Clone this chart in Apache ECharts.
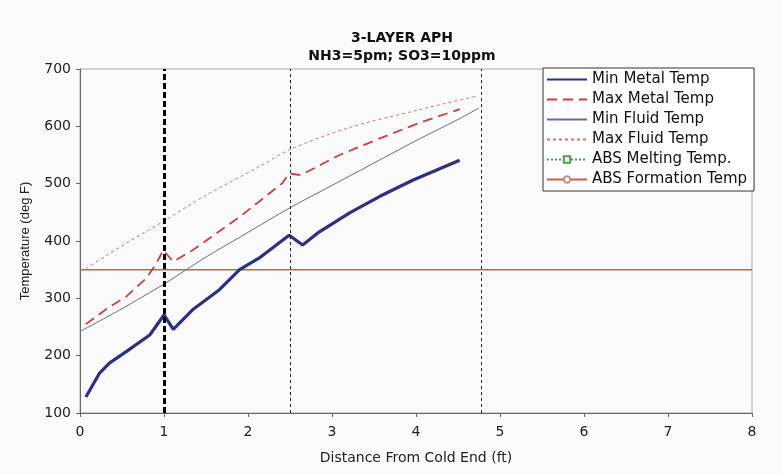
<!DOCTYPE html>
<html>
<head>
<meta charset="utf-8">
<script src="https://cdn.jsdelivr.net/npm/echarts@6/dist/echarts.min.js"></script>
<style>
  html, body { margin: 0; padding: 0; background: #fbfbfb; }
  #chart { width: 781px; height: 474px; }
</style>
</head>
<body>
<div id="chart"></div>
<script>
// distance from cold end (ft) / temperature (deg F)
const minMetalX = [0.07, 0.23, 0.35, 0.55, 0.83, 1.0, 1.11, 1.34, 1.66, 1.9, 2.13, 2.49, 2.65, 2.85, 3.21, 3.57, 3.96, 4.52]
const minMetalY = [128, 169, 187, 207, 236, 271, 246, 280, 315, 350, 370, 410, 393, 416, 449, 478, 506, 541]

const maxMetalX = [0.07, 0.19, 0.35, 0.55, 0.79, 0.91, 0.99, 1.11, 1.34, 1.9, 2.41, 2.49, 2.63, 3.09, 3.57, 4.04, 4.52]
const maxMetalY = [255, 268, 285, 303, 335, 361, 384, 364, 384, 442, 501, 518, 515, 550, 579, 606, 630]

const minFluidX = [0, 0.5, 1.0, 1.5, 2.0, 2.5, 3.0, 3.5, 4.0, 4.5, 4.75]
const minFluidY = [242, 282, 325, 372, 415, 458, 497, 536, 575, 612, 632]

const maxFluidX = [0.07, 0.55, 0.99, 1.5, 2.14, 2.49, 3.21, 4.04, 4.73]
const maxFluidY = [352, 396, 434, 480, 530, 559, 598, 629, 653]

const absMeltX = []
const absMeltY = []

const absFormX = [0, 8]
const absFormY = [350, 350]

// vertical section markers
const layerLines = [1, 2.5, 4.78]

const legendNames = ['Min Metal Temp', 'Max Metal Temp', 'Min Fluid Temp', 'Max Fluid Temp', 'ABS Melting Temp.', 'ABS Formation Temp']
const withMarker = ['ABS Melting Temp.', 'ABS Formation Temp']

const pairs = (xs, ys) => xs.map((x, i) => [x, ys[i]])

var chart = echarts.init(document.getElementById('chart'))

const wide = 'DejaVu Sans, Verdana, sans-serif'
const arial = 'Liberation Sans, Arial, sans-serif'

const option = {
  backgroundColor: '#fbfbfb',
  animation: false,
  title: {
    text: '3-LAYER APH\nNH3=5pm; SO3=10ppm',
    left: 397,
    top: 24,
    textAlign: 'center',
    textStyle: {
      fontFamily: wide,
      fontSize: 14,
      fontWeight: 'bold',
      lineHeight: 18,
      color: '#111'
    }
  },
  legend: {
    orient: 'vertical',
    left: 543,
    top: 68,
    padding: [4, 7, 4, 3],
    itemGap: 5,
    itemWidth: 40,
    itemHeight: 8,
    backgroundColor: '#fff',
    borderColor: '#333',
    borderWidth: 1,
    textStyle: { fontFamily: wide, fontSize: 15, lineHeight: 14, color: '#111' },
    data: legendNames.map(n => withMarker.includes(n)
      ? { name: n }
      : { name: n, itemStyle: { opacity: 0 } })
  },
  grid: {
    left: 80,
    right: 29,
    top: 69,
    bottom: 61,
    show: true,
    borderColor: '#a8a8a8',
    borderWidth: 1,
    backgroundColor: 'transparent'
  },
  xAxis: {
    type: 'value',
    min: 0,
    max: 8,
    interval: 1,
    name: 'Distance From Cold End (ft)',
    nameLocation: 'middle',
    nameGap: 38,
    nameTextStyle: { fontFamily: wide, fontSize: 14, color: '#222' },
    axisLine: { lineStyle: { color: '#666' } },
    axisTick: { length: 4, lineStyle: { color: '#666' } },
    axisLabel: { fontFamily: wide, fontSize: 14, color: '#222', margin: 12 },
    splitLine: { show: false }
  },
  yAxis: {
    type: 'value',
    min: 100,
    max: 700,
    interval: 100,
    name: 'Temperature (deg F)',
    nameLocation: 'middle',
    nameGap: 48,
    nameTextStyle: { fontFamily: arial, fontSize: 13, color: '#222' },
    axisLine: { show: true, lineStyle: { color: '#666' } },
    axisTick: { show: true, length: 4, lineStyle: { color: '#666' } },
    axisLabel: { fontFamily: wide, fontSize: 14, color: '#222', margin: 9 },
    splitLine: { show: false }
  },
  series: [
    {
      name: 'ABS Formation Temp',
      type: 'line',
      data: pairs(absFormX, absFormY),
      symbol: 'emptyCircle',
      showSymbol: false,
      z: 1,
      itemStyle: { color: '#c98a80' },
      lineStyle: { color: '#c4643f', width: 1.5 },
      markLine: {
        silent: true,
        symbol: 'none',
        label: { show: false },
        data: layerLines.map((v, i) => ({
          xAxis: v,
          lineStyle: i === 0
            ? { color: '#000', width: 3, type: [6, 3] }
            : { color: '#222', width: 1, type: [3, 3] }
        }))
      }
    },
    {
      name: 'ABS Melting Temp.',
      type: 'line',
      data: pairs(absMeltX, absMeltY),
      symbol: 'emptyRect',
      itemStyle: { color: '#4aa04a' },
      lineStyle: { color: '#4aa04a', width: 1, type: [2, 2] }
    },
    {
      name: 'Max Fluid Temp',
      type: 'line',
      data: pairs(maxFluidX, maxFluidY),
      symbol: 'none',
      smooth: 0.3,
      lineStyle: { color: '#e06a6a', width: 1, type: [3, 3] }
    },
    {
      name: 'Min Fluid Temp',
      type: 'line',
      data: pairs(minFluidX, minFluidY),
      symbol: 'none',
      smooth: 0.3,
      lineStyle: { color: '#6a6a9e', width: 1 }
    },
    {
      name: 'Max Metal Temp',
      type: 'line',
      data: pairs(maxMetalX, maxMetalY),
      symbol: 'none',
      lineStyle: { color: '#d43a3a', width: 1.8, type: [10, 6] }
    },
    {
      name: 'Min Metal Temp',
      type: 'line',
      data: pairs(minMetalX, minMetalY),
      symbol: 'none',
      lineStyle: { color: '#2b2f86', width: 3.2 }
    }
  ]
}
chart.setOption(option)
</script>
</body>
</html>
